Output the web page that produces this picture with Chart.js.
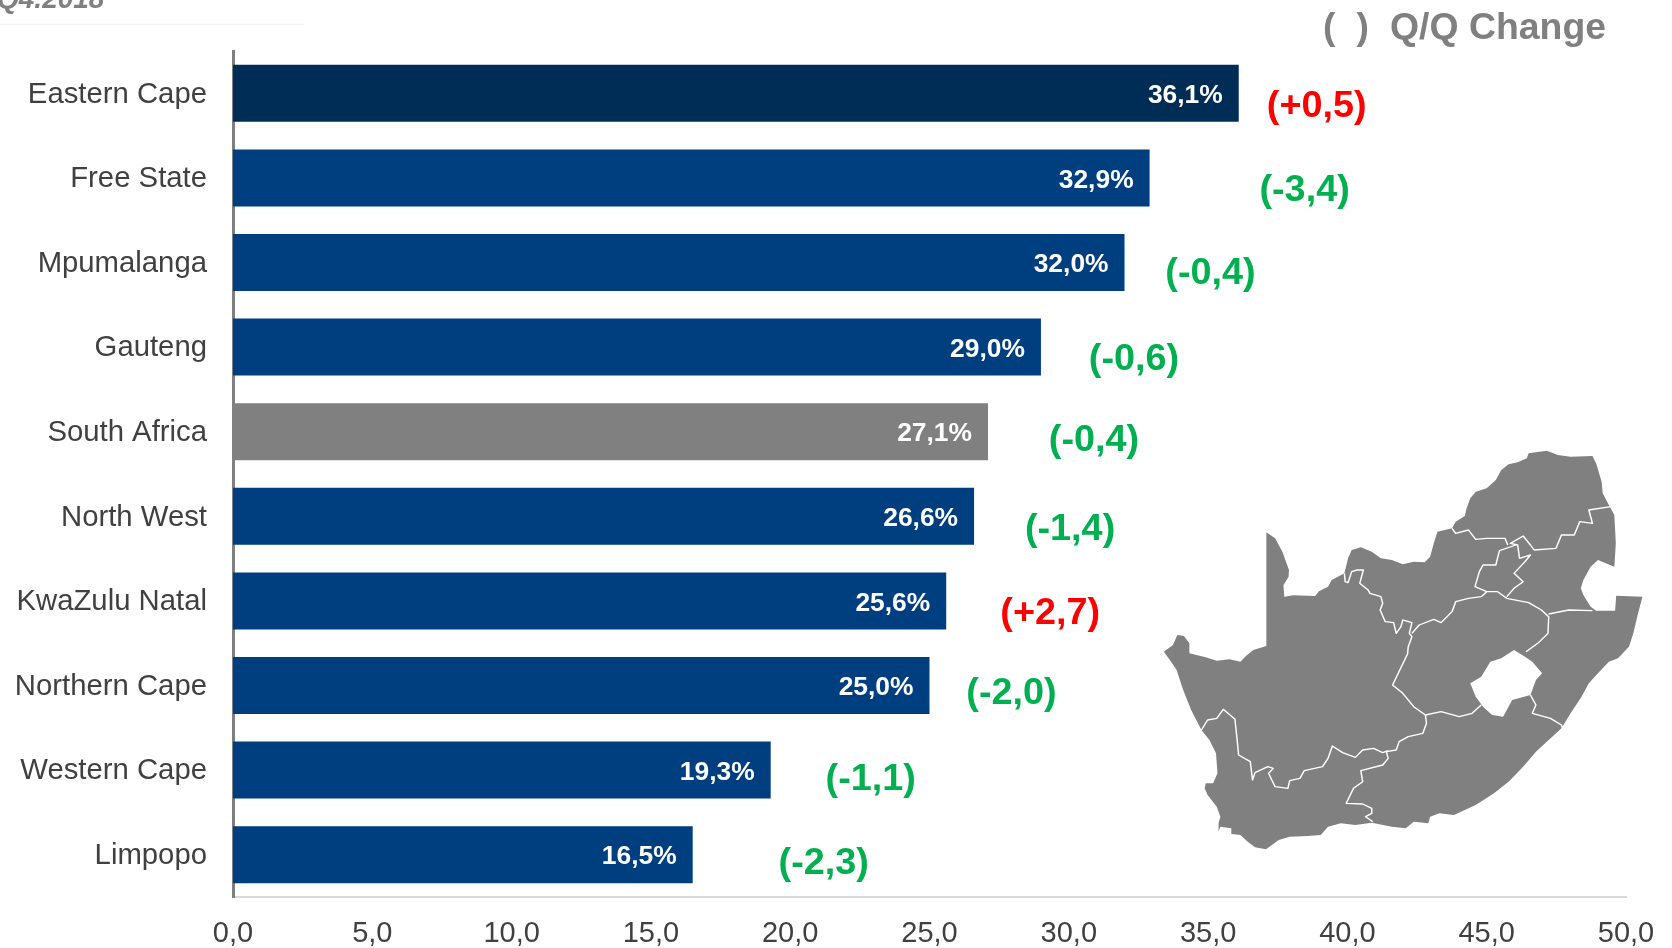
<!DOCTYPE html>
<html><head><meta charset="utf-8">
<style>html,body{margin:0;padding:0;background:#fff;overflow:hidden}#w{width:1672px;height:948px;position:relative}</style>
<script src="https://cdn.jsdelivr.net/npm/chart.js@4/dist/chart.umd.min.js"></script>
</head><body><div id="w"><canvas id="c" width="1672" height="948"></canvas></div>
<script>
const categories = ["Eastern Cape","Free State","Mpumalanga","Gauteng","South Africa","North West","KwaZulu Natal","Northern Cape","Western Cape","Limpopo"];
const rates = [36.1,32.9,32.0,29.0,27.1,26.6,25.6,25.0,19.3,16.5];
const changes = [0.5,-3.4,-0.4,-0.6,-0.4,-1.4,2.7,-2.0,-1.1,-2.3];
const barColors = ["#002D56","#003F7F","#003F7F","#003F7F","#808080","#003F7F","#003F7F","#003F7F","#003F7F","#003F7F"];
const xTicks = [0,5,10,15,20,25,30,35,40,45,50];
// label placement relative to each bar end / bar centre (px)
const changeDx = [78,155,86,93,106,96,104,82,100,131];
const changeDy = [13,13,11,12,9,13,13,8,9,9];

const comma = (v,d=1)=>v.toFixed(d).replace('.',',');
const MAP_OUTLINE = "M456 307L480 325 500 365 518 420 517 440 503 465 505 500 530 496 590 498 600 484 625 470 635 450 670 430 680 385 690 360 715 352 745 365 770 385 800 390 830 403 860 395 890 397 905 380 915 340 925 305 965 295 975 275 1000 258 1005 235 1015 205 1030 185 1060 175 1085 150 1100 120 1120 103 1145 97 1170 85 1175 70 1225 62 1255 75 1290 80 1350 78 1360 100 1375 155 1378 190 1395 225 1410 255 1414 340 1410 410 1365 390 1345 410 1325 450 1318 475 1325 495 1345 530 1360 542 1412 542 1415 497 1487 500 1475 550 1462 610 1450 650 1420 685 1395 695 1365 730 1340 760 1320 800 1290 850 1265 895 1230 930 1195 965 1160 1010 1120 1055 1080 1090 1030 1125 970 1155 930 1150 905 1160 900 1180 860 1175 838 1195 800 1190 745 1178 700 1185 660 1180 625 1190 605 1215 570 1218 520 1220 490 1230 455 1258 425 1252 405 1235 385 1215 360 1212 360 1195 330 1190 325 1205 325 1180 330 1160 320 1130 295 1095 287 1075 290 1060 310 1060 322 1030 318 970 300 930 278 900 250 840 228 780 210 720 195 695 175 665 200 645 212 615 230 618 245 640 245 670 290 682 320 692 355 688 385 695 400 678 420 660 456 648Z";
const MAP_HOLE = "M1015 760L1045 740 1070 695 1100 685 1135 660 1165 680 1185 695 1212 730 1195 750 1180 795 1130 810 1105 860 1075 855 1050 830 1030 800Z";
const MAP_BORDERS = [
"M670 430L672 455 680 458 690 425 705 420 722 420 712 460 735 480 740 490 770 500 775 520 768 540 782 575 805 578 812 610 825 590 830 570 855 578 848 610 855 620 845 650 843 672 802 765 830 790 860 830 892 855 895 880 885 910 845 920 820 935 812 960 785 965 790 985 775 1005 715 1022 720 1055 695 1075 675 1120 720 1122 745 1135 745 1150 728 1160 748 1175",
"M855 610L875 585 915 568 935 578 965 545 975 515 1010 505 1045 500 1060 485 1090 485 1115 505 1175 518 1210 540 1230 560 1228 610 1200 640 1168 665",
"M1060 485L1028 470 1040 425 1050 405 1085 405 1095 362 1140 345",
"M1115 500L1135 475 1160 455 1135 430 1165 395 1180 375 1150 385 1145 345 1125 340 1160 318 1180 345 1190 360 1250 355 1265 315 1300 315 1315 275 1350 280 1340 240 1400 230",
"M965 295L975 310 1010 300 1030 328 1060 325 1110 325 1118 345",
"M1230 552L1285 540 1350 542",
"M1180 795L1195 825 1185 850 1235 865 1265 885 1268 895",
"M892 855L935 845 985 860 1020 850 1045 825",
"M278 900L295 870 320 865 338 838 370 868 375 920 380 975 412 995 418 1050 425 1028 460 1010 475 1015 462 1030 480 1070 515 1075 520 1052 548 1045 560 1022 610 1010 625 985 637 948 665 968 700 982 720 960 750 955 775 968 790 962"
];
const FONT = '"Liberation Sans", Arial, sans-serif';
const MAP_SCALE_X = 572/1568, MAP_SCALE_Y = 1/3;

const decor = {
  id:'decor',
  beforeDatasetsDraw(chart){
    const c = chart.ctx; c.save();
    c.translate(1100,430); c.scale(MAP_SCALE_X,MAP_SCALE_Y);
    c.fillStyle='#808080'; c.fill(new Path2D(MAP_OUTLINE));
    c.strokeStyle='#fff'; c.lineWidth=4; c.lineJoin='round';
    MAP_BORDERS.forEach(d=>c.stroke(new Path2D(d)));
    c.fillStyle='#fff'; c.fill(new Path2D(MAP_HOLE));
    c.restore();
    c.save();
    c.strokeStyle='#f2f2f2'; c.lineWidth=1.5;
    c.beginPath(); c.moveTo(0,24.5); c.lineTo(304,24.5); c.stroke();
    c.fillStyle='#808080'; c.textBaseline='alphabetic';
    c.textAlign='left'; c.font='italic bold 28px '+FONT;
    c.fillText('Q4.2018',-3,8);
    c.font='bold 37.4px '+FONT;
    c.fillText('(',1323,39);
    c.textAlign='right'; c.fillText(')',1369,39);
    c.textAlign='left'; c.fillText('Q/Q Change',1390,39);
    c.restore();
  },
  afterDatasetsDraw(chart){
    const c = chart.ctx, bars = chart.getDatasetMeta(0).data; c.save();
    c.textBaseline='middle';
    bars.forEach((b,i)=>{
      c.fillStyle='#fff'; c.textAlign='right'; c.font='bold 26.4px '+FONT;
      c.fillText(comma(rates[i])+'%', b.x-16, b.y+2.5);
      const v = changes[i];
      c.fillStyle = v>0 ? '#FF0000' : '#00B050';
      c.textAlign='center'; c.font='bold 37.8px '+FONT;
      c.fillText('('+(v>0?'+':'')+comma(v)+')', b.x+changeDx[i], b.y+changeDy[i]);
    });
    c.restore();
  }
};

new Chart(document.getElementById('c'),{
  type:'bar',
  data:{labels:categories,datasets:[{data:rates,backgroundColor:barColors,borderWidth:0,barPercentage:0.674,categoryPercentage:1}]},
  plugins:[decor],
  options:{
    indexAxis:'y',responsive:false,animation:false,
    layout:{padding:{top:51,right:46,left:0,bottom:0}},
    plugins:{legend:{display:false},tooltip:{enabled:false}},
    scales:{
      x:{min:0,max:50,
        afterBuildTicks(s){s.ticks=xTicks.map(v=>({value:v}));},
        afterFit(s){s.height=51;s.paddingRight=0;s.paddingLeft=0;},
        grid:{display:false,drawTicks:false},
        border:{display:true,color:'#d9d9d9',width:2},
        ticks:{padding:20,color:'#404040',font:{family:FONT,size:29},maxRotation:0,autoSkip:false,callback:v=>comma(v)}},
      y:{
        afterFit(s){
          s.width=233;
          if(!s._nudged){ s._nudged=true;
            const orig=s._computeLabelItems.bind(s);
            s._computeLabelItems=a=>{const it=orig(a); it.forEach(i=>{i.textOffset+=1.2;}); return it;};
          }
        },
        grid:{display:false,drawTicks:false},
        border:{display:true,color:'#808080',width:3},
        ticks:{padding:26,color:'#404040',font:{family:FONT,size:29.3},autoSkip:false}}
    }
  }
});
</script></body></html>
